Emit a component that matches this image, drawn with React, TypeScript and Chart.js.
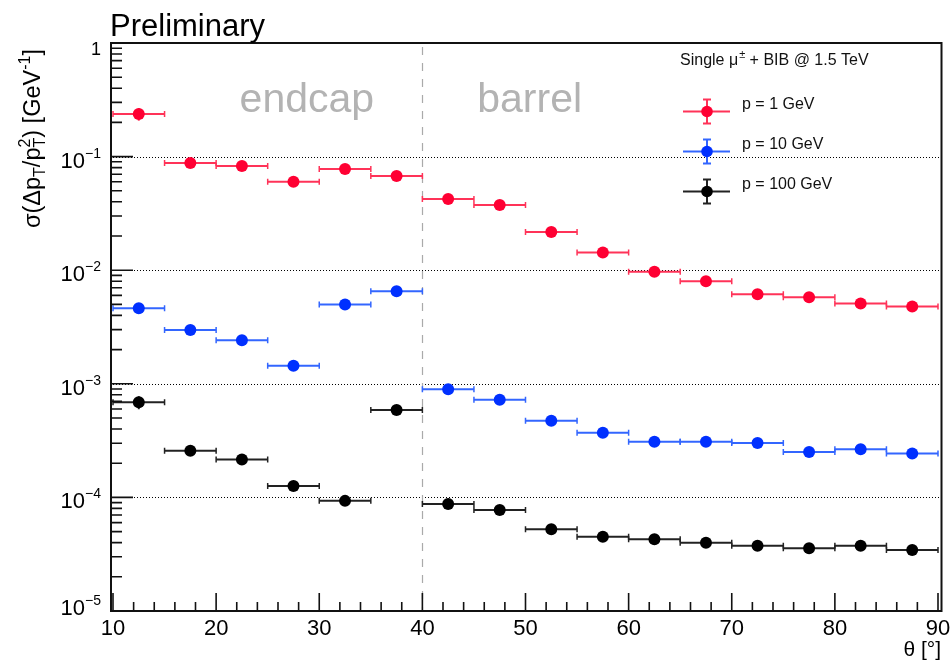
import React, { useEffect, useRef } from "react";
import { Chart, registerables } from "chart.js";
Chart.register(...registerables);

// ---------- data ----------
const thetaBins = [12.5, 17.5, 22.5, 27.5, 32.5, 37.5, 42.5, 47.5, 52.5, 57.5, 62.5, 67.5, 72.5, 77.5, 82.5, 87.5];
const binHalfWidth = 2.5;

const res1GeV = [0.237, 0.088, 0.0826, 0.06, 0.0776, 0.0676, 0.0424, 0.0375, 0.0217, 0.0143, 0.0097, 0.008, 0.00614, 0.00577, 0.0051, 0.0048];
const err1GeV = [0.03, 0, 0, 0, 0, 0, 0, 0, 0, 0, 0, 0, 0, 0, 0, 0];

const res10GeV = [0.00462, 0.00298, 0.00242, 0.00144, 0.005, 0.00652, 0.000895, 0.000723, 0.000473, 0.000371, 0.000309, 0.000309, 0.000301, 0.000251, 0.000265, 0.000243];
const err10GeV = [0, 0, 0, 0, 0, 0, 0, 0, 0, 0, 0, 0, 0, 0, 0, 0];

const res100GeV = [0.000687, 0.000258, 0.000216, 0.000126, 0.0000932, 0.000588, 0.0000875, 0.0000776, 0.0000524, 0.0000451, 0.0000428, 0.0000399, 0.0000376, 0.0000356, 0.0000376, 0.0000344];
const err100GeV = [0.00009, 0, 0, 0, 0, 0, 0, 0, 0, 0, 0, 0, 0, 0, 0, 0];

const seriesLabels = ["p = 1 GeV", "p = 10 GeV", "p = 100 GeV"];
const markerColors = ["#ff0033", "#0030ff", "#000000"];
const barColors = ["#ff3358", "#3366ff", "#222222"];

const xTickValues = [10, 20, 30, 40, 50, 60, 70, 80, 90];
const xMinorStep = 2;
const yDecades = [0, -1, -2, -3, -4, -5];
const gridDecades = [-1, -2, -3, -4];
const regionBoundary = 40;
const regionLabels = ["endcap", "barrel"];
const regionLabelTheta = [28.8, 50.4];

const titleText = "Preliminary";
const legendHeader = ["Single μ", "±", " + BIB @ 1.5 TeV"];
const xTitle = "θ [°]";

const FONT = '"Liberation Sans", Arial, Helvetica, sans-serif';

const errArrays = [err1GeV, err10GeV, err100GeV];
const valArrays = [res1GeV, res10GeV, res100GeV];

const decoPlugin = {
  id: "rootStyle",
  beforeDatasetsDraw(chart: any) {
    const { ctx, chartArea: a, scales } = chart;
    const xs = scales.x, ys = scales.y;
    ctx.save();
    // dotted grid lines at decades
    ctx.strokeStyle = "#000";
    ctx.lineWidth = 1;
    ctx.setLineDash([1, 2]);
    for (const d of gridDecades) {
      const y = Math.round(ys.getPixelForValue(Math.pow(10, d))) + 0.5;
      ctx.beginPath();
      ctx.moveTo(a.left, y);
      ctx.lineTo(a.right + 2, y);
      ctx.stroke();
    }
    // dashed boundary
    ctx.strokeStyle = "#aaaaaa";
    ctx.lineWidth = 1.2;
    ctx.setLineDash([8, 8]);
    const bx = Math.round(xs.getPixelForValue(regionBoundary)) + 0.5;
    ctx.beginPath();
    ctx.moveTo(bx, a.top + 4);
    ctx.lineTo(bx, a.bottom);
    ctx.stroke();
    ctx.setLineDash([]);
    // region labels
    ctx.fillStyle = "#b3b3b3";
    ctx.font = `41px ${FONT}`;
    ctx.textAlign = "center";
    ctx.textBaseline = "alphabetic";
    regionLabels.forEach((t, i) => {
      ctx.fillText(t, xs.getPixelForValue(regionLabelTheta[i]), 112);
    });
    // error bars
    chart.data.datasets.forEach((ds: any, di: number) => {
      ctx.strokeStyle = barColors[di];
      thetaBins.forEach((th, i) => {
        const v = valArrays[di][i];
        const y = ys.getPixelForValue(v);
        const x0 = xs.getPixelForValue(th - binHalfWidth);
        const x1 = xs.getPixelForValue(th + binHalfWidth);
        ctx.lineWidth = 2;
        ctx.beginPath();
        ctx.moveTo(x0, y);
        ctx.lineTo(x1, y);
        ctx.stroke();
        ctx.lineWidth = 1.5;
        ctx.beginPath();
        ctx.moveTo(x0, y - 3);
        ctx.lineTo(x0, y + 3);
        ctx.moveTo(x1, y - 3);
        ctx.lineTo(x1, y + 3);
        ctx.stroke();
        const e = errArrays[di][i];
        if (e > 0) {
          const xc = xs.getPixelForValue(th);
          ctx.lineWidth = 2;
          ctx.beginPath();
          ctx.moveTo(xc, ys.getPixelForValue(v + e));
          ctx.lineTo(xc, ys.getPixelForValue(v - e));
          ctx.stroke();
        }
      });
    });
    ctx.restore();
  },
  afterDraw(chart: any) {
    const { ctx, chartArea: a, scales } = chart;
    const xs = scales.x, ys = scales.y;
    ctx.save();
    // frame
    ctx.strokeStyle = "#111";
    ctx.lineWidth = 2;
    const fl = a.left - 2, fr = a.right + 3.5, ft = a.top, fb = a.bottom;
    ctx.strokeRect(fl, ft, fr - fl, fb - ft);
    // y ticks
    ctx.lineWidth = 1.6;
    ctx.beginPath();
    for (const d of yDecades) {
      const y = ys.getPixelForValue(Math.pow(10, d));
      ctx.moveTo(fl, y);
      ctx.lineTo(fl + 22, y);
    }
    for (const d of yDecades) {
      if (d === 0) continue;
      for (let k = 2; k <= 9; k++) {
        const y = ys.getPixelForValue(k * Math.pow(10, d));
        ctx.moveTo(fl, y);
        ctx.lineTo(fl + 11, y);
      }
    }
    // x ticks
    for (let v = xTickValues[0]; v <= xTickValues[xTickValues.length - 1] + 1e-9; v += xMinorStep) {
      const x = xs.getPixelForValue(v);
      const major = xTickValues.includes(v);
      ctx.moveTo(x, fb);
      ctx.lineTo(x, fb - (major ? 18 : 9));
    }
    ctx.stroke();

    // x tick labels
    ctx.fillStyle = "#000";
    ctx.textAlign = "center";
    ctx.textBaseline = "alphabetic";
    ctx.font = `22px ${FONT}`;
    for (const v of xTickValues) {
      ctx.fillText(String(v), xs.getPixelForValue(v), 635);
    }
    // y tick labels
    ctx.textAlign = "left";
    const rightX = 101;
    for (const d of yDecades) {
      const y = ys.getPixelForValue(Math.pow(10, d));
      if (d === 0) {
        ctx.font = `18px ${FONT}`;
        const w = ctx.measureText("1").width;
        ctx.fillText("1", rightX - w, y + 12);
        continue;
      }
      const base = d === yDecades[yDecades.length - 1] ? y + 4 : y + 11;
      ctx.font = `14px ${FONT}`;
      const sup = "−" + String(-d);
      const ws = ctx.measureText(sup).width;
      ctx.font = `22px ${FONT}`;
      const wb = ctx.measureText("10").width;
      const x0 = rightX - ws - wb;
      ctx.fillText("10", x0, base);
      ctx.font = `14px ${FONT}`;
      ctx.fillText(sup, x0 + wb, base - 10);
    }

    // title
    ctx.font = `31px ${FONT}`;
    ctx.fillText(titleText, 110, 36);

    // x title
    ctx.font = `21px ${FONT}`;
    ctx.textAlign = "right";
    ctx.fillText(xTitle, 941, 656);

    // y title (rotated)
    ctx.save();
    ctx.translate(40, 228);
    ctx.rotate(-Math.PI / 2);
    ctx.textAlign = "left";
    let cx = 0;
    const big = 23.5, small = 16;
    const seg = (t: string, size: number, dy: number, adv = true) => {
      ctx.font = `${size}px ${FONT}`;
      ctx.fillText(t, cx, dy);
      const w = ctx.measureText(t).width;
      if (adv) cx += w;
      return w;
    };
    seg("σ(Δp", big, 0);
    seg("T", small, 5);
    seg("/p", big, 0);
    const w1 = seg("2", small, -10, false);
    const w2 = seg("T", small, 5, false);
    cx += Math.max(w1, w2);
    seg(") [GeV", big, 0);
    seg("-1", small, -10);
    seg("]", big, 0);
    ctx.restore();

    // legend
    ctx.fillStyle = "#111";
    ctx.textAlign = "left";
    let lx = 680;
    ctx.font = `16px ${FONT}`;
    ctx.fillText(legendHeader[0], lx, 65);
    lx += ctx.measureText(legendHeader[0]).width + 1;
    ctx.font = `11px ${FONT}`;
    ctx.fillText(legendHeader[1], lx, 58);
    lx += ctx.measureText(legendHeader[1]).width;
    ctx.font = `16px ${FONT}`;
    ctx.fillText(legendHeader[2], lx, 65);

    chart.data.datasets.forEach((ds: any, i: number) => {
      const y = 111.5 + 40 * i;
      const mx = 707;
      ctx.strokeStyle = barColors[i];
      ctx.lineWidth = 2;
      ctx.beginPath();
      ctx.moveTo(683, y);
      ctx.lineTo(730, y);
      ctx.moveTo(mx, y - 12);
      ctx.lineTo(mx, y + 12);
      ctx.moveTo(mx - 4, y - 12);
      ctx.lineTo(mx + 4, y - 12);
      ctx.moveTo(mx - 4, y + 12);
      ctx.lineTo(mx + 4, y + 12);
      ctx.stroke();
      ctx.fillStyle = markerColors[i];
      ctx.beginPath();
      ctx.arc(mx, y, 5.8, 0, Math.PI * 2);
      ctx.fill();
      ctx.fillStyle = "#111";
      ctx.font = `16px ${FONT}`;
      ctx.fillText(ds.label, 742, y - 3);
    });
    ctx.restore();
  },
};

export default function App() {
  const ref = useRef<HTMLCanvasElement | null>(null);
  useEffect(() => {
    document.body.style.margin = "0";
    const canvas = ref.current!;
    const datasets = seriesLabels.map((label, di) => ({
      label,
      data: thetaBins.map((x, i) => ({ x, y: valArrays[di][i] })),
      pointRadius: 6,
      pointHoverRadius: 6,
      pointBackgroundColor: markerColors[di],
      pointBorderWidth: 0,
      borderWidth: 0,
      showLine: false,
    }));
    const chart = new Chart(canvas, {
      type: "scatter",
      data: { datasets },
      options: {
        animation: false,
        responsive: false,
        events: [],
        layout: { padding: { left: 113, right: 13, top: 43, bottom: 51 } },
        plugins: { legend: { display: false }, tooltip: { enabled: false }, title: { display: false } },
        scales: {
          x: { type: "linear", min: 10, max: 90, display: false },
          y: { type: "logarithmic", min: 1e-5, max: 1, display: false },
        },
      },
      plugins: [decoPlugin],
    });
    return () => chart.destroy();
  }, []);
  return <canvas ref={ref} width={951} height={662} style={{ display: "block", width: 951, height: 662 }} />;
}
